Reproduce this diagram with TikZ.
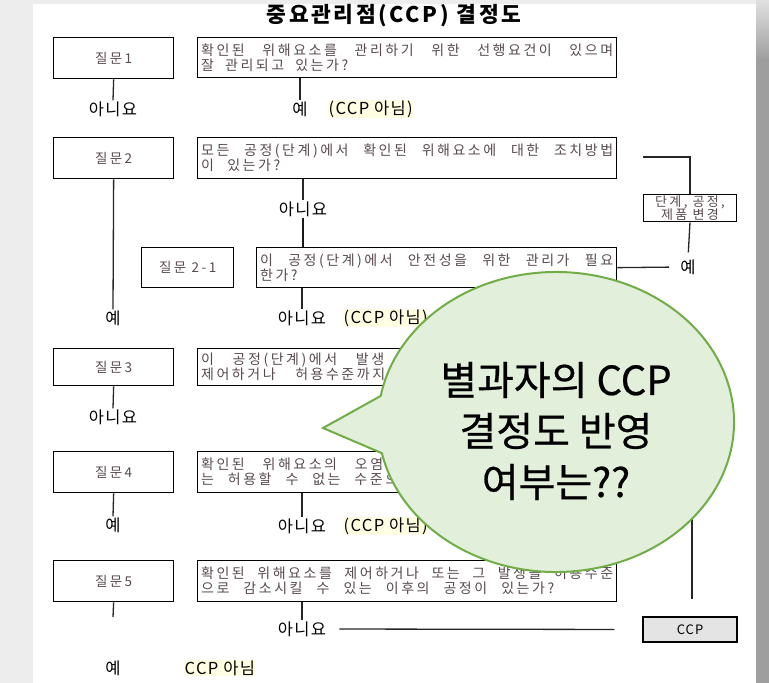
\documentclass[tikz,border=0pt]{standalone}
\usepackage{fontspec}
\setmainfont{Noto Sans CJK KR}
\newfontfamily\boxfont[LetterSpace=18]{Noto Sans CJK KR}
\newfontfamily\labfont[LetterSpace=8]{Noto Sans CJK KR}
\newfontfamily\titlefont[LetterSpace=12]{Noto Sans CJK KR}
\newfontfamily\bubblefont[FakeBold=0.6]{Noto Sans CJK KR}
\usetikzlibrary{calc}

% one line of box text, spread to the given width
\newcommand\qline[2]{{\spaceskip=0.2em plus 30em\relax\makebox[#1][s]{#2}}}

\definecolor{boxtext}{RGB}{88,74,78}
\definecolor{bubblefill}{RGB}{226,239,218}
\definecolor{bubbleline}{RGB}{112,173,71}
\definecolor{hilite}{RGB}{255,253,226}
\definecolor{ccpfill}{RGB}{228,228,228}

\begin{document}
\begin{tikzpicture}[x=1pt,y=-1pt,
    qbox/.style={draw, line width=1.3pt, anchor=north west, minimum width=120pt, minimum height=41pt,
        inner sep=0pt, text=boxtext, font={\boxfont\fontsize{13.5}{15}\selectfont}},
    tbox/.style={draw, line width=1.3pt, anchor=north west, minimum width=419pt, minimum height=41pt,
        inner sep=3pt, text width=412pt, align=left, text=boxtext,
        font={\boxfont\fontsize{14}{15}\selectfont}},
    lab/.style={inner sep=1pt, font={\labfont\fontsize{16.5}{18}\selectfont}},
    hl/.style={lab, anchor=west, fill=hilite, inner sep=0.5pt},
    conn/.style={line width=1.3pt, draw=black!85},
    thickconn/.style={line width=2.6pt, draw=black!90},
  ]
  \useasboundingbox (0,0) rectangle (769,683);

  %%%%% START %%%%%

  % page and window frame
  \fill[white] (0,0) rectangle (769,683);
  \fill[black!7] (0,0) rectangle (33,683);
  \fill[black!7] (0,0) rectangle (769,4);
  \shade[top color=black!12, bottom color=black!38] (756,0) rectangle (769,60);
  \fill[black!38] (756,60) rectangle (769,683);

  \node[font={\titlefont\bfseries\fontsize{21.5}{22}\selectfont}] (title) at (394,16) {중요관리점(CCP)\hspace{8pt}결정도};

  % question 1
  \node[qbox] (q1) at (53,37) {질문1};
  \node[tbox, minimum height=40pt] (q1t) at (197,37)
    {\qline{412pt}{확인된 위해요소를 관리하기 위한 선행요건이 있으며}\\\qline{147pt}{잘 관리되고 있는가?}};
  \node[lab] (q1no) at (113,109) {아니요};
  \node[lab] (q1yes) at (300,109) {예};
  \node[hl] (q1ccp) at (328,109) {(CCP 아님)};
  \draw[conn] (q1.south) -- (q1no.north);
  \draw[conn] (q1t.south -| q1yes) -- (q1yes.north);

  % question 2
  \node[qbox] (q2) at (53,137) {질문2};
  \node[tbox] (q2t) at (197,137)
    {\qline{412pt}{모든 공정(단계)에서 확인된 위해요소에 대한 조치방법}\\\qline{79pt}{이 있는가?}};
  \node[lab] (q2yes) at (113,318) {예};
  \node[lab] (q2no) at (303,209) {아니요};
  \draw[conn] (q2.south) -- (q2yes.north);
  \draw[conn] (q2t.south -| q2no) -- (q2no.north);

  % question 2-1
  \node[qbox, minimum width=92pt, minimum height=40pt] (q21) at (141,247) {질문 2-1};
  \node[tbox, minimum width=360pt, minimum height=40pt, text width=353pt] (q21t) at (256,247)
    {\qline{353pt}{이 공정(단계)에서 안전성을 위한 관리가 필요}\\한가?};
  \node[lab] (q21no) at (302,318) {아니요};
  \node[hl] (q21ccp) at (343,318) {(CCP 아님)};
  \draw[thickconn] (q2no.south) -- (q21t.north -| q2no);
  \draw[conn] (q21t.south -| q21no) -- (q21no.north);

  % change of step / process / product
  \coordinate (q2side) at (643,157);
  \node[draw, line width=1.3pt, minimum width=93pt, minimum height=26pt, inner sep=1pt, align=center,
        text=boxtext, font={\boxfont\fontsize{13}{13.5}\selectfont}] (chg) at (690,208) {단계, 공정,\\제품 변경};
  \node[lab] (q21yes) at (688,267) {예};
  \draw[conn] (q2side) -| (chg.north);
  \draw[conn, shorten >=6pt] (chg.south) -- (q21yes.north);
  \draw[conn, shorten >=10pt] (q21t.east) -- (q21yes.west);

  % question 3
  \node[qbox, minimum height=37pt] (q3) at (53,348) {질문3};
  \node[tbox, minimum height=37pt] (q3t) at (197,348)
    {\qline{183pt}{이 공정(단계)에서 발생}\\\qline{184pt}{제어하거나 허용수준까지}};
  \node[lab] (q3no) at (113,417) {아니요};
  \draw[conn] (q3.south) -- (q3no.north);

  % question 4
  \node[qbox] (q4) at (53,451) {질문4};
  \node[tbox] (q4t) at (197,451)
    {\qline{182pt}{확인된 위해요소의 오염}\\\qline{197pt}{는 허용할 수 없는 수준으}};
  \node[lab] (q4yes) at (113,525) {예};
  \node[lab] (q4no) at (302,526) {아니요};
  \node[hl] (q4ccp) at (343,526) {(CCP 아님)};
  \draw[conn] (q4.south) -- (q4yes.north);
  \draw[conn] (q4t.south -| q4no) -- (q4no.north);

  % question 5
  \node[qbox] (q5) at (53,560) {질문5};
  \node[tbox] (q5t) at (197,560)
    {\qline{412pt}{확인된 위해요소를 제어하거나 또는 그 발생을 허용수준}\\\qline{353pt}{으로 감소시킬 수 있는 이후의 공정이 있는가?}};
  \coordinate (q5down) at (113,617);
  \node[lab] (q5no) at (302,629) {아니요};
  \node[draw, line width=1.2pt, fill=ccpfill, minimum width=94pt, minimum height=25pt, inner sep=0pt,
        font={\labfont\fontsize{13}{14}\selectfont}] (ccp) at (690,629.5) {CCP};
  \draw[conn] (q5.south) -- (q5down);
  \draw[conn] (q5t.south -| q5no) -- (q5no.north);
  \draw[conn, shorten <=12pt, shorten >=28pt] (q5no.east) -- (ccp.west);

  \coordinate (q3side) at (692,380);
  \draw[conn, shorten >=17pt] (q3side) -- (q3side |- ccp.north);

  \node[lab] (q5yes) at (113,668) {예};
  \node[hl] (q5ccp) at (184,668) {CCP 아님};

  % speech bubble
  \filldraw[fill=bubblefill, draw=bubbleline, line width=2pt]
    (323,428) -- ([shift={(168:178 and 150)}]556,422)
    arc[start angle=168, end angle=-170, x radius=178, y radius=150] -- cycle;
  \node[align=center, font={\bubblefont\fontsize{40}{51}\selectfont}] (bubbletext) at (556,431)
    {별과자의 CCP\\결정도 반영\\여부는??};

  %%%%% END %%%%%
\end{tikzpicture}
\end{document}
